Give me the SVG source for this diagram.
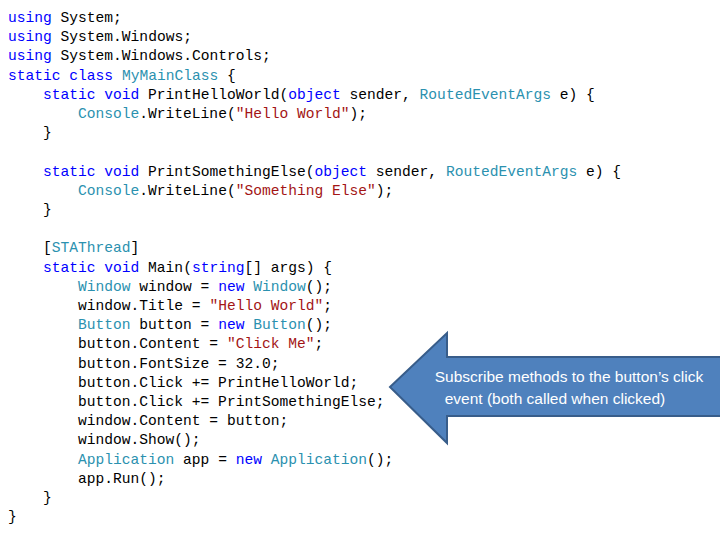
<svg xmlns="http://www.w3.org/2000/svg" width="720" height="540" viewBox="0 0 720 540">
<style>
.c{font-family:"Liberation Mono","DejaVu Sans Mono",monospace;font-size:14.6px;fill:#000}
.k{fill:#0000ff}.t{fill:#2b91af}.s{fill:#a31515}
.a{font-family:"Liberation Sans","Open Sans",sans-serif;font-size:15.5px;fill:#fff;text-anchor:middle}
</style>
<rect width="720" height="540" fill="#fff"/>
<g id="code" class="c" xml:space="preserve">
<text x="8" y="22"><tspan class="k">using</tspan> System;</text>
<text x="8" y="41.2"><tspan class="k">using</tspan> System.Windows;</text>
<text x="8" y="60.4"><tspan class="k">using</tspan> System.Windows.Controls;</text>
<text x="8" y="79.6"><tspan class="k">static</tspan> <tspan class="k">class</tspan> <tspan class="t">MyMainClass</tspan> {</text>
<text x="43" y="98.8"><tspan class="k">static</tspan> <tspan class="k">void</tspan> PrintHelloWorld(<tspan class="k">object</tspan> sender, <tspan class="t">RoutedEventArgs</tspan> e) {</text>
<text x="78" y="118"><tspan class="t">Console</tspan>.WriteLine(<tspan class="s">"Hello World"</tspan>);</text>
<text x="43" y="137.2">}</text>
<text x="43" y="175.6"><tspan class="k">static</tspan> <tspan class="k">void</tspan> PrintSomethingElse(<tspan class="k">object</tspan> sender, <tspan class="t">RoutedEventArgs</tspan> e) {</text>
<text x="78" y="194.8"><tspan class="t">Console</tspan>.WriteLine(<tspan class="s">"Something Else"</tspan>);</text>
<text x="43" y="214">}</text>
<text x="43" y="252.4">[<tspan class="t">STAThread</tspan>]</text>
<text x="43" y="271.6"><tspan class="k">static</tspan> <tspan class="k">void</tspan> Main(<tspan class="k">string</tspan>[] args) {</text>
<text x="78" y="290.8"><tspan class="t">Window</tspan> window = <tspan class="k">new</tspan> <tspan class="t">Window</tspan>();</text>
<text x="78" y="310">window.Title = <tspan class="s">"Hello World"</tspan>;</text>
<text x="78" y="329.2"><tspan class="t">Button</tspan> button = <tspan class="k">new</tspan> <tspan class="t">Button</tspan>();</text>
<text x="78" y="348.4">button.Content = <tspan class="s">"Click Me"</tspan>;</text>
<text x="78" y="367.6">button.FontSize = 32.0;</text>
<text x="78" y="386.8">button.Click += PrintHelloWorld;</text>
<text x="78" y="406">button.Click += PrintSomethingElse;</text>
<text x="78" y="425.2">window.Content = button;</text>
<text x="78" y="444.4">window.Show();</text>
<text x="78" y="463.6"><tspan class="t">Application</tspan> app = <tspan class="k">new</tspan> <tspan class="t">Application</tspan>();</text>
<text x="78" y="482.8">app.Run();</text>
<text x="43" y="502">}</text>
<text x="8" y="521.2">}</text>
</g>
<g id="callout">
<path d="M390,387 L447,333 L447,357 L722,357 L722,416 L447,416 L447,443 Z" fill="#4f81bd" stroke="#385d8a" stroke-width="2"/>
<text class="a" x="569" y="382">Subscribe methods to the button’s click</text>
<text class="a" x="555" y="404">event (both called when clicked)</text>
</g>
</svg>
